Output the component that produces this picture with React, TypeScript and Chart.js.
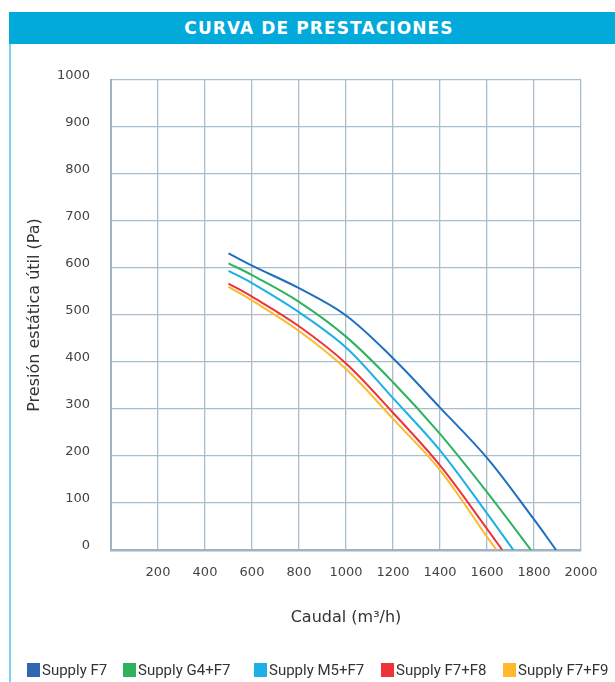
import React, { useEffect, useRef } from "react";
import { Chart, registerables } from "chart.js";

Chart.register(...registerables);

const TITLE = "CURVA DE PRESTACIONES";
const X_TITLE = "Caudal (m³/h)";
const Y_TITLE = "Presión estática útil (Pa)";

const SERIES_NAMES = ["Supply F7", "Supply G4+F7", "Supply M5+F7", "Supply F7+F8", "Supply F7+F9"];
const LINE_COLORS = ["#1F6FBF", "#2DB35D", "#1DAFE8", "#EE3338", "#FDBA2C"];
const LEGEND_COLORS = ["#2F67B1", "#2DB35D", "#1DAFE6", "#EE3338", "#FDBA2C"];

const F7_X = [500, 600, 800, 1000, 1200, 1400, 1600, 1800, 1894];
const F7_Y = [631, 605, 557, 499, 408, 303, 196, 65, 0];
const G4F7_X = [500, 600, 800, 1000, 1200, 1400, 1600, 1787];
const G4F7_Y = [610, 585, 528, 454, 357, 247, 123, 0];
const M5F7_X = [500, 600, 800, 1000, 1200, 1400, 1600, 1712];
const M5F7_Y = [594, 568, 506, 431, 323, 212, 78, 0];
const F7F8_X = [500, 600, 800, 1000, 1200, 1400, 1600, 1665];
const F7F8_Y = [567, 539, 476, 397, 292, 180, 45, 0];
const F7F9_X = [500, 600, 800, 1000, 1200, 1400, 1600, 1641];
const F7F9_Y = [560, 531, 466, 385, 279, 170, 28, 0];

const SERIES_X = [F7_X, G4F7_X, M5F7_X, F7F8_X, F7F9_X];
const SERIES_Y = [F7_Y, G4F7_Y, M5F7_Y, F7F8_Y, F7F9_Y];

const X_MIN = 0;
const X_MAX = 2000;
const X_STEP = 200;
const Y_MIN = 0;
const Y_MAX = 1000;
const Y_STEP = 100;

const LEGEND_LEFT = [27, 123, 254, 381, 503];

const FONT = "'DejaVu Sans', sans-serif";

export default function App() {
  const canvasRef = useRef<HTMLCanvasElement | null>(null);

  useEffect(() => {
    const canvas = canvasRef.current;
    if (!canvas) return;
    const datasets = SERIES_NAMES.map((name, i) => ({
      label: name,
      data: SERIES_X[i].map((x, j) => ({ x, y: SERIES_Y[i][j] })),
      borderColor: LINE_COLORS[i],
      backgroundColor: LINE_COLORS[i],
      borderWidth: 2,
      pointRadius: 0,
      fill: false,
      tension: 0.35,
    }));
    const chart = new Chart(canvas, {
      type: "line",
      data: { datasets },
      options: {
        animation: false,
        responsive: false,
        devicePixelRatio: 1,
        layout: { padding: { left: 0, right: 34, top: 80, bottom: 55 } },
        plugins: { legend: { display: false }, tooltip: { enabled: false } },
        scales: {
          x: {
            type: "linear",
            min: X_MIN,
            max: X_MAX,
            afterFit: (s: any) => {
              s.height = 77;
            },
            ticks: {
              stepSize: X_STEP,
              padding: 15,
              color: "#444",
              font: { family: FONT, size: 13 },
              maxRotation: 0,
              autoSkip: false,
              callback: (v: any) => (v === 0 ? "" : String(v)),
            },
            grid: { color: "#A9BECD", lineWidth: 1.3, drawTicks: false },
            border: { color: "#9DB3C3", width: 2.5 },
            title: {
              display: true,
              text: X_TITLE,
              color: "#333",
              font: { family: FONT, size: 16 },
              padding: { top: 0, bottom: 0 },
            },
          },
          y: {
            type: "linear",
            min: Y_MIN,
            max: Y_MAX,
            afterFit: (s: any) => {
              s.width = 111;
            },
            ticks: {
              stepSize: Y_STEP,
              padding: 21,
              labelOffset: -4,
              color: "#444",
              font: { family: FONT, size: 13 },
              callback: (v: any) => String(v),
            },
            grid: { color: "#A9BECD", lineWidth: 1.3, drawTicks: false },
            border: { color: "#9DB3C3", width: 2 },
            title: {
              display: true,
              text: Y_TITLE,
              color: "#333",
              font: { family: FONT, size: 16 },
              padding: { top: 25, bottom: 0 },
            },
          },
        },
      },
    });
    return () => chart.destroy();
  }, []);

  return (
    <div
      style={{
        position: "absolute",
        left: 0,
        top: 0,
        width: 615,
        height: 682,
        overflow: "hidden",
        background: "#fff",
        fontFamily: FONT,
      }}
    >
      <div
        style={{
          position: "absolute",
          left: 9,
          top: 12,
          width: 620,
          height: 32,
          background: "#02A9DB",
          color: "#fff",
          fontWeight: 600,
          fontSize: 17,
          letterSpacing: 1.1,
          lineHeight: "32px",
          textAlign: "center",
        }}
      >
        {TITLE}
      </div>
      <div
        style={{
          position: "absolute",
          left: 9,
          top: 44,
          width: 2,
          height: 640,
          background: "#7ED3EF",
        }}
      />
      <canvas
        ref={canvasRef}
        width={615}
        height={682}
        style={{ position: "absolute", left: 0, top: 0, width: 615, height: 682 }}
      />
      {SERIES_NAMES.map((name, i) => (
        <div
          key={name}
          style={{
            position: "absolute",
            left: LEGEND_LEFT[i],
            top: 662,
            height: 16,
            display: "flex",
            alignItems: "center",
            fontFamily: "Roboto, sans-serif",
            fontSize: 15,
            color: "#333",
            whiteSpace: "nowrap",
          }}
        >
          <span
            style={{
              display: "inline-block",
              width: 13,
              height: 14,
              background: LEGEND_COLORS[i],
              marginRight: 2,
            }}
          />
          {name}
        </div>
      ))}
    </div>
  );
}
